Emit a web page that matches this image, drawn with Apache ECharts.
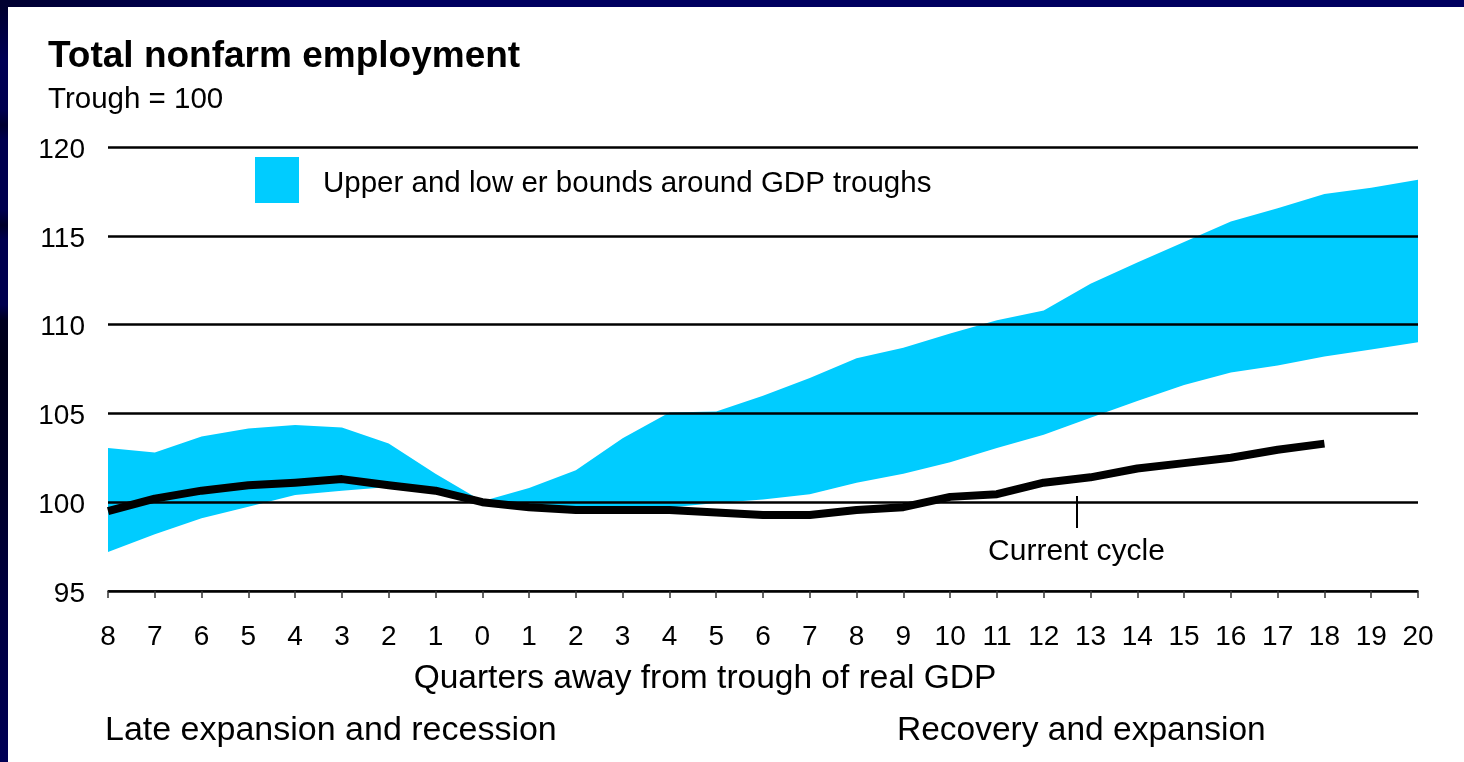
<!DOCTYPE html>
<html>
<head>
<meta charset="utf-8">
<script src="https://cdn.jsdelivr.net/npm/echarts@6/dist/echarts.min.js"></script>
<style>
  html, body { margin: 0; padding: 0; }
  body {
    width: 1464px; height: 762px; overflow: hidden;
    background: linear-gradient(to bottom, #00002a 0px, #000040 30px, #000055 60px, #000050 110px, #000030 125px, #00004f 140px, #00004f 210px, #00002a 225px, #00004f 240px, #00004f 305px, #000020 320px, #000018 360px, #000028 480px, #000040 600px, #000055 762px);
    position: relative;
  }
  #topbar { position: absolute; left: 0; top: 0; width: 1464px; height: 7px; background: linear-gradient(to right, #000030, #000060 300px, #000060); }
  #panel { position: absolute; left: 8px; top: 7px; width: 1456px; height: 755px; background: #ffffff; }
  #chart { position: absolute; left: 0; top: 0; width: 1464px; height: 762px; }
</style>
</head>
<body>
<div id="topbar"></div>
<div id="panel"></div>
<div id="chart"></div>
<script>
// Quarters away from trough of real GDP
var quarters = [-8, -7, -6, -5, -4, -3, -2, -1, 0, 1, 2, 3, 4, 5, 6, 7, 8, 9, 10, 11, 12, 13, 14, 15, 16, 17, 18, 19, 20];
// Upper bound of the band
var upperBound = [103.05, 102.8, 103.7, 104.15, 104.35, 104.2, 103.3, 101.6, 100.05, 100.8, 101.8, 103.6, 105.05, 105.1, 106.0, 107.0, 108.1, 108.7, 109.5, 110.25, 110.8, 112.3, 113.5, 114.65, 115.8, 116.55, 117.35, 117.7, 118.15];
// Lower bound of the band
var lowerBound = [97.2, 98.2, 99.1, 99.75, 100.4, 100.65, 100.85, 100.6, 100.0, 99.8, 99.75, 99.7, 99.7, 99.95, 100.15, 100.45, 101.1, 101.6, 102.25, 103.05, 103.8, 104.75, 105.7, 106.6, 107.3, 107.7, 108.2, 108.6, 109.0];
// Current cycle (ends at quarter 18)
var currentQuarters = [-8, -7, -6, -5, -4, -3, -2, -1, 0, 1, 2, 3, 4, 5, 6, 7, 8, 9, 10, 11, 12, 13, 14, 15, 16, 17, 18];
var currentCycle = [99.5, 100.2, 100.65, 100.95, 101.1, 101.3, 100.95, 100.65, 100.0, 99.72, 99.56, 99.56, 99.56, 99.42, 99.28, 99.28, 99.56, 99.72, 100.3, 100.45, 101.1, 101.4, 101.9, 102.2, 102.5, 102.95, 103.3];
// Y axis
var yMin = 95, yMax = 120, yStep = 5;
// Annotation for current cycle
var annotX = 12.7;
var annotLineTop = 100.35, annotLineBottom = 98.55, annotLabelY = 97.2;

var FONT = '"Liberation Sans", Arial, sans-serif';

function pairs(xs, ys) { return xs.map(function (x, i) { return [x, ys[i]]; }); }

var chart = echarts.init(document.getElementById('chart'), null, { renderer: 'canvas' });
chart.setOption({
  backgroundColor: 'transparent',
  animation: false,
  textStyle: { fontFamily: FONT },
  grid: { left: 108, right: 46, top: 147, bottom: 171, containLabel: false },
  graphic: [
    { type: 'text', left: 48, top: 38, style: { text: 'Total nonfarm employment', font: 'bold 37px ' + FONT, fill: '#000' } },
    { type: 'text', left: 48, top: 85, style: { text: 'Trough = 100', font: '29.5px ' + FONT, fill: '#000' } },
    { type: 'text', left: 105, top: 714, style: { text: 'Late expansion and recession', font: '34px ' + FONT, fill: '#000' } },
    { type: 'text', left: 897, top: 714, style: { text: 'Recovery and expansion', font: '33.5px ' + FONT, fill: '#000' } }
  ],
  legend: {
    left: 250, top: 152,
    data: ['Upper and low er bounds around GDP troughs'],
    icon: 'rect', itemWidth: 44, itemHeight: 46,
    formatter: function (name) { return '{t|' + name + '}'; },
    textStyle: {
      color: '#000', fontFamily: FONT, fontSize: 29.5,
      rich: { t: { fontSize: 29.5, color: '#000', fontFamily: FONT, padding: [8, 0, 0, 19] } }
    },
    itemStyle: { color: '#00CCFF' },
    selectedMode: false
  },
  xAxis: {
    type: 'value', min: -8, max: 20, interval: 1,
    name: 'Quarters away from trough of real GDP',
    nameLocation: 'middle', nameGap: 71,
    nameTextStyle: { fontSize: 33.5, color: '#000', fontFamily: FONT, padding: [0, 116, 0, 0] },
    axisLine: { show: true, onZero: false, lineStyle: { color: '#000', width: 1.5 } },
    axisTick: { show: true, length: 7, lineStyle: { color: '#333', width: 1.5 } },
    axisLabel: { fontSize: 28, color: '#000', margin: 32, formatter: function (v) { return String(Math.abs(v)); } },
    splitLine: { show: false },
    z: 3
  },
  yAxis: {
    type: 'value', min: yMin, max: yMax, interval: yStep,
    axisLine: { show: false }, axisTick: { show: false },
    axisLabel: {
      fontSize: 28, color: '#000', margin: 23,
      formatter: function (v) { return '{v|' + v + '}'; },
      rich: { v: { fontSize: 28, color: '#000', fontFamily: FONT, padding: [6, 0, 0, 0] } }
    },
    splitLine: { show: true, lineStyle: { color: '#000', width: 2.5 } },
    z: 3
  },
  series: [
    {
      name: 'Upper and low er bounds around GDP troughs',
      type: 'line', data: pairs(quarters, upperBound),
      symbol: 'none', lineStyle: { width: 0, color: '#00CCFF' },
      itemStyle: { color: '#00CCFF' },
      areaStyle: { color: '#00CCFF', opacity: 1, origin: 'start' },
      z: 1
    },
    {
      name: 'lower',
      type: 'line', data: pairs(quarters, lowerBound),
      symbol: 'none', lineStyle: { width: 0, color: '#ffffff' },
      areaStyle: { color: '#ffffff', opacity: 1, origin: 'start' },
      z: 1
    },
    {
      name: 'Current cycle',
      type: 'line', data: pairs(currentQuarters, currentCycle),
      symbol: 'none', lineStyle: { width: 8, color: '#000', join: 'round' },
      z: 5,
      markLine: {
        silent: true, symbol: 'none',
        lineStyle: { color: '#000', width: 2, type: 'solid' },
        label: { show: false },
        data: [[{ coord: [annotX, annotLineTop] }, { coord: [annotX, annotLineBottom] }]]
      },
      markPoint: {
        silent: true, symbol: 'circle', symbolSize: 0,
        label: { show: true, position: 'inside', formatter: 'Current cycle', fontSize: 30, color: '#000', fontFamily: FONT },
        data: [{ coord: [annotX, annotLabelY] }]
      }
    }
  ]
});
</script>
</body>
</html>
